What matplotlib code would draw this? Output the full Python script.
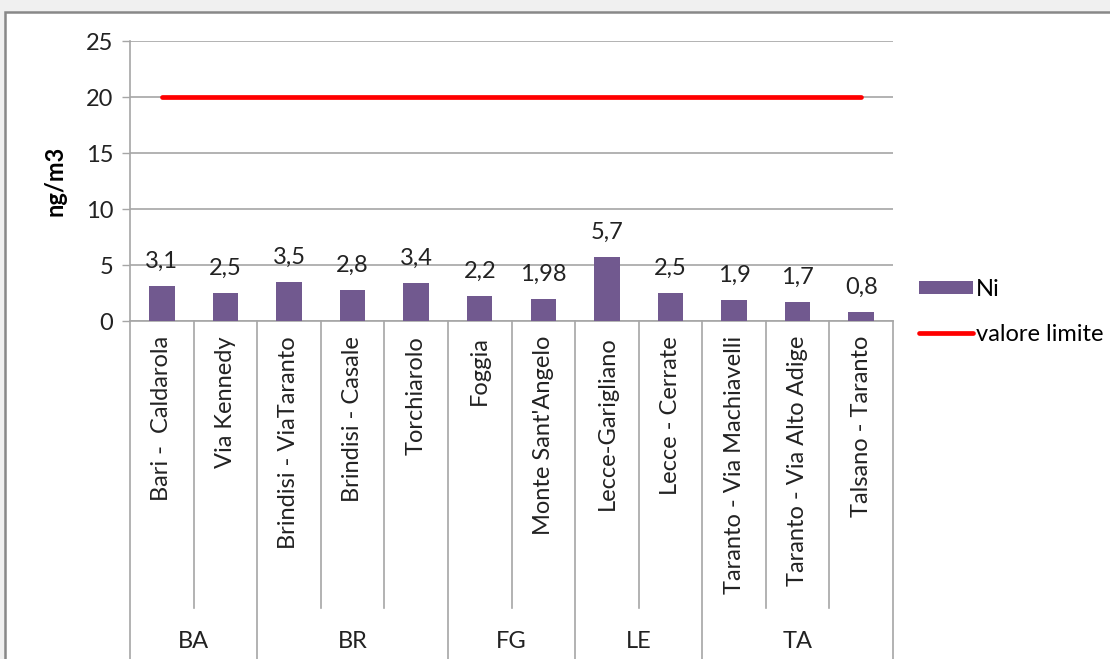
import matplotlib.pyplot as plt
from matplotlib.patches import Rectangle, Patch
from matplotlib.lines import Line2D

# 폰트 설정 (Calibri 대용)
plt.rcParams['font.family'] = ['Lato', 'DejaVu Sans']

# 데이터
stations = ['Bari -  Caldarola', 'Via Kennedy', 'Brindisi - ViaTaranto', 'Brindisi - Casale',
            'Torchiarolo', 'Foggia', "Monte Sant'Angelo", 'Lecce-Garigliano', 'Lecce - Cerrate',
            'Taranto - Via Machiavelli', 'Taranto - Via Alto Adige', 'Talsano - Taranto']
ni_values = [3.1, 2.5, 3.5, 2.8, 3.4, 2.2, 1.98, 5.7, 2.5, 1.9, 1.7, 0.8]
limit_values = [20] * len(stations)
groups = ['BA', 'BR', 'FG', 'LE', 'TA']
group_sizes = [2, 3, 2, 2, 3]
y_ticks = [0, 5, 10, 15, 20, 25]

FS = 17
W, H = 1110, 659
fig = plt.figure(figsize=(W / 100, H / 100), dpi=100, facecolor='#f0f0f0')

# 차트 영역 (흰 배경 + 회색 테두리)
fig.patches.append(Rectangle((5 / W, -0.1), 1.2, (H - 12) / H + 0.1, transform=fig.transFigure,
                             facecolor='white', edgecolor='#888888', linewidth=1.8, zorder=-1))

left, right, top, bottom = 130, 893, 41, 321
ax = fig.add_axes([left / W, (H - bottom) / H, (right - left) / W, (bottom - top) / H])
ax.set_facecolor('none')

x = list(range(len(stations)))
bars = ax.bar(x, ni_values, width=0.4, color='#71598f', zorder=3, label='Ni')
ax.plot(x, limit_values, color='#ff0000', linewidth=3.4, solid_capstyle='round', zorder=4,
        label='valore limite')

# 데이터 레이블
for xi, v in zip(x, ni_values):
    ax.annotate(str(v).replace('.', ','), (xi, v), xytext=(0, 13), textcoords='offset points',
                ha='center', va='baseline', fontsize=FS, color='#222222')

ax.set_xlim(-0.5, len(stations) - 0.5)
ax.set_ylim(0, 25)
ax.set_yticks(y_ticks)
ax.set_yticklabels([str(t) for t in y_ticks], fontsize=FS, color='#222222')
ax.yaxis.grid(True, color='#a6a6a6', linewidth=1.2, zorder=0)
ax.tick_params(axis='y', length=6, width=1, color='#a6a6a6', pad=6)
ax.set_xticks([])
for s in ['top', 'right']:
    ax.spines[s].set_visible(False)
for s in ['left', 'bottom']:
    ax.spines[s].set_color('#a6a6a6')
    ax.spines[s].set_linewidth(1.2)
ax.set_ylabel('ng/m3', fontsize=FS, fontweight='bold', labelpad=14)

# 다단계 카테고리 축
tr = ax.get_xaxis_transform()
ph = bottom - top
inner_bot = -(608 - bottom) / ph
outer_bot = -(H + 5 - bottom) / ph
group_y = -(641 - bottom) / ph
for xi, name in zip(x, stations):
    ax.text(xi, -(336 - bottom) / ph, name, transform=tr, rotation=90, ha='center', va='top',
            fontsize=FS, color='#222222')

start = 0
edges = [-0.5]
for g, n in zip(groups, group_sizes):
    for k in range(1, n):
        ax.add_line(Line2D([start + k - 0.5] * 2, [0, inner_bot], transform=tr, color='#a6a6a6',
                           linewidth=1.2, clip_on=False))
    ax.text(start + (n - 1) / 2, group_y, g, transform=tr, ha='center', va='center',
            fontsize=FS, color='#222222')
    start += n
    edges.append(start - 0.5)
for e in edges:
    ax.add_line(Line2D([e, e], [0, outer_bot], transform=tr, color='#a6a6a6',
                       linewidth=1.2, clip_on=False))

# 범례
handles = [Patch(facecolor='#71598f', label='Ni'),
           Line2D([0], [0], color='#ff0000', linewidth=3.4, solid_capstyle='round', label='valore limite')]
fig.legend(handles=handles, loc='upper left', bbox_to_anchor=(919 / W, (H - 279) / H), frameon=False,
           fontsize=FS, handlelength=2.3, handleheight=0.5, handletextpad=0.1, labelspacing=1.0,
           borderaxespad=0, borderpad=0)

fig.savefig('out.png', dpi=100, facecolor=fig.get_facecolor())
